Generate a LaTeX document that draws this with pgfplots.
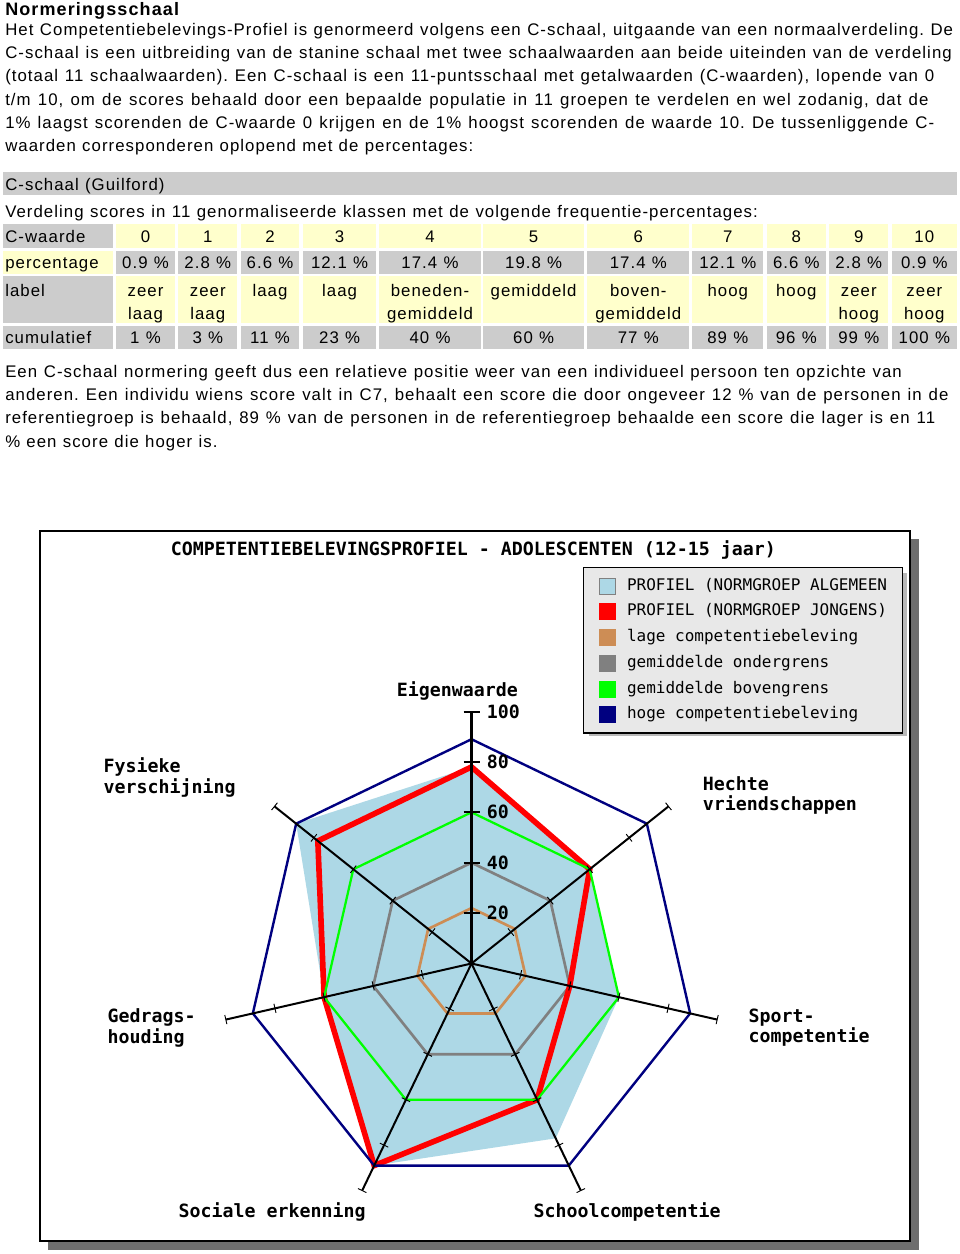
\documentclass[border=0pt]{standalone}
\usepackage{fontspec}
\usepackage{pgfplots}
\pgfplotsset{compat=1.18}
\setmainfont{Liberation Sans}
\newfontfamily\bodyfont[LetterSpace=6.2,WordSpace=1.1]{Liberation Sans}
\newfontfamily\monofont{DejaVu Sans Mono}
\newcommand{\txt}{\frenchspacing\bodyfont\fontsize{12.6pt}{17.5pt}\selectfont}
\newcommand{\lab}{\monofont\bfseries\fontsize{13.7pt}{16pt}\selectfont}
\newcommand{\leg}{\monofont\fontsize{12pt}{14pt}\selectfont}
\newcommand{\tline}[2]{\makebox[#1pt][s]{\txt #2}}
\definecolor{ycell}{HTML}{FFFFCC}
\definecolor{gcell}{HTML}{CCCCCC}
\definecolor{lblue}{HTML}{ADD8E6}
\definecolor{lbrown}{HTML}{CD8D55}
\definecolor{lgray}{HTML}{808080}
\definecolor{lgreen}{HTML}{00FF00}
\definecolor{lnavy}{HTML}{000080}
\definecolor{shadowgray}{HTML}{6E6E6E}
\pgfplotsset{
  P/.style={data cs=polar, forget plot},
  sq/.style={legend image code/.code={\draw[line width=0.6pt,##1] (0pt,-6pt) rectangle (12pt,6pt); \path (20.25pt,0pt);}},
}
\begin{document}
\begin{tikzpicture}
\begin{scope}[x=0.75pt,y=-0.75pt,every node/.style={inner sep=0}]
\fill[white] (0,0) rectangle (960,1254);
\node[anchor=base west] at (5,15.5) {\txt\bfseries\fontsize{13.5pt}{16pt}\selectfont Normeringsschaal};
\node[anchor=base west] at (5,35) {\tline{711}{Het Competentiebelevings-Profiel is genormeerd volgens een C-schaal, uitgaande van een normaalverdeling. De}};
\node[anchor=base west] at (5,58.3) {\tline{710}{C-schaal is een uitbreiding van de stanine schaal met twee schaalwaarden aan beide uiteinden van de verdeling}};
\node[anchor=base west] at (5,81.7) {\tline{696.75}{(totaal 11 schaalwaarden). Een C-schaal is een 11-puntsschaal met getalwaarden (C-waarden), lopende van 0}};
\node[anchor=base west] at (5,105) {\tline{692.5}{t/m 10, om de scores behaald door een bepaalde populatie in 11 groepen te verdelen en wel zodanig, dat de}};
\node[anchor=base west] at (5,128.3) {\tline{696.75}{1\% laagst scorenden de C-waarde 0 krijgen en de 1\% hoogst scorenden de waarde 10. De tussenliggende C-}};
\node[anchor=base west] at (5,151.7) {\txt waarden corresponderen oplopend met de percentages:};
\fill[gcell] (3,171.7) rectangle (956.7,195);
\node[anchor=base west] at (5,190) {\txt C-schaal (Guilford)};
\node[anchor=base west] at (5,217) {\tline{564.5}{Verdeling scores in 11 genormaliseerde klassen met de volgende frequentie-percentages:}};
% table
\fill[gcell] (3.3,224) rectangle (112.7,248);
\fill[ycell] (3.3,250.5) rectangle (112.7,273.5);
\fill[gcell] (3.3,276) rectangle (112.7,323);
\fill[gcell] (3.3,325.5) rectangle (112.7,349);
\node[anchor=base west] at (5,242) {\txt C-waarde};
\node[anchor=base west] at (5,268) {\txt percentage};
\node[anchor=base west] at (5,296) {\txt label};
\node[anchor=base west] at (5,343.3) {\txt cumulatief};
\foreach \a/\b/\v/\p/\la/\lb/\c in {
 116/175/0/0.9/zeer/laag/1,
 178.3/237.3/1/2.8/zeer/laag/3,
 240.7/299.3/2/6.6/laag//11,
 303.3/376/3/12.1/laag//23,
 379.3/480.7/4/17.4/beneden-/gemiddeld/40,
 483.3/584/5/19.8/gemiddeld//60,
 587.3/689.3/6/17.4/boven-/gemiddeld/77,
 692.3/763.3/7/12.1/hoog//89,
 766.7/826/8/6.6/hoog//96,
 829.3/888.3/9/2.8/zeer/hoog/99,
 892/956.7/10/0.9/zeer/hoog/100}
{
  \fill[ycell] (\a,224) rectangle (\b,248);
  \fill[gcell] (\a,250.5) rectangle (\b,273.5);
  \fill[ycell] (\a,276) rectangle (\b,323);
  \fill[gcell] (\a,325.5) rectangle (\b,349);
  \node[anchor=base] at ({(\a+\b)/2},242) {\txt \v};
  \node[anchor=base] at ({(\a+\b)/2},268) {\txt \p\ \%};
  \node[anchor=base] at ({(\a+\b)/2},296) {\txt \la};
  \node[anchor=base] at ({(\a+\b)/2},319.3) {\txt \lb};
  \node[anchor=base] at ({(\a+\b)/2},343.3) {\txt \c\ \%};
}
\node[anchor=base west] at (5,377) {\tline{672.5}{Een C-schaal normering geeft dus een relatieve positie weer van een individueel persoon ten opzichte van}};
\node[anchor=base west] at (5,400.3) {\tline{707.5}{anderen. Een individu wiens score valt in C7, behaalt een score die door ongeveer 12 \% van de personen in de}};
\node[anchor=base west] at (5,423.7) {\tline{697.5}{referentiegroep is behaald, 89 \% van de personen in de referentiegroep behaalde een score die lager is en 11}};
\node[anchor=base west] at (5,447) {\txt \% een score die hoger is.};
% chart frame
\fill[shadowgray] (48,539) rectangle (919,1250);
\filldraw[fill=white,draw=black,line width=1.5pt] (40,531) rectangle (910,1241);
% legend shadow
\fill[black!28] (589,573) rectangle (907,736);
\node[anchor=base west] at (170.7,555) {\lab COMPETENTIEBELEVINGSPROFIEL - ADOLESCENTEN (12-15 jaar)};
\node[anchor=base west] at (396.7,696) {\lab Eigenwaarde};
\node[anchor=base west] at (103.3,772.7) {\lab Fysieke};
\node[anchor=base west] at (103.3,793.4) {\lab verschijning};
\node[anchor=base west] at (702.7,790) {\lab Hechte};
\node[anchor=base west] at (702.7,810.7) {\lab vriendschappen};
\node[anchor=base west] at (107.3,1022.4) {\lab Gedrags-};
\node[anchor=base west] at (107.3,1043.4) {\lab houding};
\node[anchor=base west] at (748.3,1022.7) {\lab Sport-};
\node[anchor=base west] at (748.3,1042.7) {\lab competentie};
\node[anchor=base west] at (178.3,1217.4) {\lab Sociale erkenning};
\node[anchor=base west] at (533.3,1217.4) {\lab Schoolcompetentie};
\end{scope}
\begin{axis}[
  at={(353.625pt,-722.625pt)}, anchor=origin,
  x=1.89pt, y=1.89pt,
  xmin=-170, xmax=170, ymin=-105, ymax=165,
  hide axis, clip=false,
  legend cell align=left,
  legend style={at={(0.6301,0.9716)}, anchor=north west, draw=black, line width=1pt,
    fill=black!9, font=\leg, inner xsep=11.5pt, inner ysep=7.5pt, row sep=6.7pt,
    nodes={inner sep=0pt, text height=9pt, text depth=3pt}},
]
% profiel algemeen (filled)
\addplot[P, fill=lblue, draw=none] coordinates {(90,78) (38.5714,60) (-12.8571,60) (-64.2857,77) (-115.7143,89) (-167.1429,60) (141.4286,89)} -- cycle;
% lage competentiebeleving
\addplot[P, lbrown, line width=2pt] coordinates {(90,22) (38.5714,22) (-12.8571,22) (-64.2857,22) (-115.7143,22) (-167.1429,22) (141.4286,22)} -- cycle;
% gemiddelde ondergrens
\addplot[P, lgray, line width=2pt] coordinates {(90,40) (38.5714,40) (-12.8571,40) (-64.2857,40) (-115.7143,40) (-167.1429,40) (141.4286,40)} -- cycle;
% profiel jongens
\addplot[P, red, line width=4.2pt] coordinates {(90,78) (38.5714,60) (-12.8571,40) (-64.2857,60) (-115.7143,89) (-167.1429,60) (141.4286,78)} -- cycle;
% gemiddelde bovengrens
\addplot[P, lgreen, line width=1.7pt] coordinates {(90,60) (38.5714,60) (-12.8571,60) (-64.2857,60) (-115.7143,60) (-167.1429,60) (141.4286,60)} -- cycle;
% hoge competentiebeleving
\addplot[P, lnavy, line width=1.8pt] coordinates {(90,89) (38.5714,89) (-12.8571,89) (-64.2857,89) (-115.7143,89) (-167.1429,89) (141.4286,89)} -- cycle;
% spokes
\addplot[P, black, line width=2pt] coordinates {(0,0) (90,100)};
\addplot[P, black, line width=1.5pt] coordinates {(0,0) (38.5714,100)};
\addplot[P, black, line width=1.5pt] coordinates {(0,0) (-12.8571,100)};
\addplot[P, black, line width=1.5pt] coordinates {(0,0) (-64.2857,100)};
\addplot[P, black, line width=1.5pt] coordinates {(0,0) (-115.7143,100)};
\addplot[P, black, line width=1.5pt] coordinates {(0,0) (-167.1429,100)};
\addplot[P, black, line width=1.5pt] coordinates {(0,0) (141.4286,100)};
% ticks
\addplot[P, only marks, mark=|, mark size=6pt, mark options={rotate=90, line width=1.5pt, black}] coordinates {(90,20) (90,40) (90,60) (90,80) (90,100)};
\addplot[P, only marks, mark=|, mark size=3.5pt, mark options={rotate=38.5714, line width=0.7pt, black}] coordinates {(38.5714,20) (38.5714,40) (38.5714,60) (38.5714,80) (38.5714,100)};
\addplot[P, only marks, mark=|, mark size=3.5pt, mark options={rotate=-12.8571, line width=0.7pt, black}] coordinates {(-12.8571,20) (-12.8571,40) (-12.8571,60) (-12.8571,80) (-12.8571,100)};
\addplot[P, only marks, mark=|, mark size=3.5pt, mark options={rotate=-64.2857, line width=0.7pt, black}] coordinates {(-64.2857,20) (-64.2857,40) (-64.2857,60) (-64.2857,80) (-64.2857,100)};
\addplot[P, only marks, mark=|, mark size=3.5pt, mark options={rotate=-115.7143, line width=0.7pt, black}] coordinates {(-115.7143,20) (-115.7143,40) (-115.7143,60) (-115.7143,80) (-115.7143,100)};
\addplot[P, only marks, mark=|, mark size=3.5pt, mark options={rotate=-167.1429, line width=0.7pt, black}] coordinates {(-167.1429,20) (-167.1429,40) (-167.1429,60) (-167.1429,80) (-167.1429,100)};
\addplot[P, only marks, mark=|, mark size=3.5pt, mark options={rotate=141.4286, line width=0.7pt, black}] coordinates {(141.4286,20) (141.4286,40) (141.4286,60) (141.4286,80) (141.4286,100)};
% tick labels
\node[anchor=west,inner sep=0,font=\lab] at (axis cs:6.03,100) {100};
\node[anchor=west,inner sep=0,font=\lab] at (axis cs:6.03,80) {80};
\node[anchor=west,inner sep=0,font=\lab] at (axis cs:6.03,60) {60};
\node[anchor=west,inner sep=0,font=\lab] at (axis cs:6.03,40) {40};
\node[anchor=west,inner sep=0,font=\lab] at (axis cs:6.03,20) {20};
% legend
\addlegendimage{sq, fill=lblue, draw=gray}
\addlegendentry{PROFIEL (NORMGROEP ALGEMEEN}
\addlegendimage{sq, fill=red, draw=red}
\addlegendentry{PROFIEL (NORMGROEP JONGENS)}
\addlegendimage{sq, fill=lbrown, draw=lbrown}
\addlegendentry{lage competentiebeleving}
\addlegendimage{sq, fill=lgray, draw=lgray}
\addlegendentry{gemiddelde ondergrens}
\addlegendimage{sq, fill=lgreen, draw=lgreen}
\addlegendentry{gemiddelde bovengrens}
\addlegendimage{sq, fill=lnavy, draw=lnavy}
\addlegendentry{hoge competentiebeleving}
\end{axis}
\pgfresetboundingbox
\path (0pt,0pt) rectangle (720pt,-940.5pt);
\end{tikzpicture}
\end{document}
